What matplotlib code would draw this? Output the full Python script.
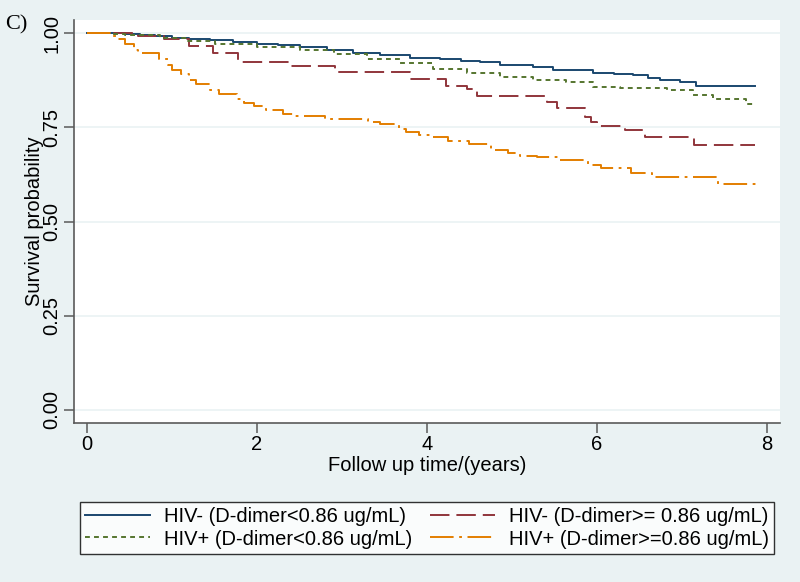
import matplotlib.pyplot as plt

# Kaplan-Meier step values (time in years, survival after the step)
t_neg_low = [0, 0.27, 0.45, 0.62, 0.8, 1.0, 1.2, 1.45, 1.72, 2.0, 2.25, 2.5, 2.82, 3.13, 3.45,
             3.8, 4.15, 4.4, 4.62, 4.86, 5.25, 5.48, 5.95, 6.2, 6.42, 6.6, 6.74, 6.98, 7.17, 7.86]
s_neg_low = [1.0, 0.999, 0.998, 0.996, 0.992, 0.988, 0.985, 0.981, 0.976, 0.971, 0.968, 0.963, 0.954, 0.948, 0.941,
             0.935, 0.930, 0.926, 0.922, 0.916, 0.910, 0.901, 0.895, 0.892, 0.888, 0.882, 0.875, 0.870, 0.860, 0.860]

t_neg_high = [0, 0.6, 0.9, 1.2, 1.48, 1.78, 2.4, 2.92, 3.8, 4.22, 4.47, 4.59, 5.41, 5.53,
              5.86, 5.93, 6.0, 6.33, 6.57, 7.14, 7.86]
s_neg_high = [1.0, 0.992, 0.983, 0.966, 0.948, 0.922, 0.913, 0.897, 0.877, 0.860, 0.851, 0.834, 0.816, 0.800,
              0.778, 0.765, 0.753, 0.743, 0.724, 0.703, 0.703]

t_pos_low = [0, 0.27, 0.45, 0.62, 0.86, 1.18, 1.5, 2.0, 2.5, 2.9, 3.29, 3.68, 4.07, 4.47, 4.86,
             5.25, 5.64, 5.95, 6.27, 6.82, 7.13, 7.37, 7.75, 7.86]
s_pos_low = [1.0, 0.998, 0.996, 0.994, 0.987, 0.979, 0.972, 0.963, 0.954, 0.945, 0.932, 0.921, 0.904, 0.893, 0.884,
             0.875, 0.870, 0.857, 0.853, 0.849, 0.835, 0.825, 0.813, 0.813]

t_pos_high = [0, 0.27, 0.35, 0.45, 0.55, 0.6, 0.85, 0.95, 1.0, 1.1, 1.2, 1.28, 1.45, 1.55, 1.77, 1.85,
              1.97, 2.1, 2.3, 2.45, 2.8, 3.3, 3.45, 3.67, 3.75, 3.9, 4.05, 4.25, 4.5, 4.75, 4.95,
              5.1, 5.3, 5.55, 5.9, 6.05, 6.4, 6.65, 7.42, 7.92]
s_pos_high = [1.0, 0.993, 0.985, 0.970, 0.955, 0.948, 0.930, 0.915, 0.901, 0.890, 0.875, 0.865, 0.849, 0.838, 0.824, 0.815,
              0.807, 0.795, 0.785, 0.781, 0.772, 0.765, 0.759, 0.745, 0.737, 0.730, 0.725, 0.714, 0.705, 0.690, 0.683,
              0.674, 0.670, 0.663, 0.650, 0.641, 0.629, 0.619, 0.600, 0.600]

labels = ["HIV- (D-dimer<0.86 ug/mL)", "HIV- (D-dimer>= 0.86 ug/mL)",
          "HIV+ (D-dimer<0.86 ug/mL)", "HIV+ (D-dimer>=0.86 ug/mL)"]
x_ticks = [0, 2, 4, 6, 8]
y_ticks = [0.00, 0.25, 0.50, 0.75, 1.00]

plt.rcParams['font.family'] = ['Liberation Sans', 'DejaVu Sans']
plt.rcParams['lines.scale_dashes'] = False

bg = '#EAF2F3'
fig = plt.figure(figsize=(8, 5.82), dpi=100, facecolor=bg)
ax = fig.add_axes([0.0925, 0.2732, 0.8825, 0.6924])
ax.set_facecolor('white')

l1, = ax.step(t_neg_low, s_neg_low, where='post', color='#1A476F', lw=1.4)
l2, = ax.step(t_neg_high, s_neg_high, where='post', color='#90353B', lw=1.4, dashes=(14, 5))
l3, = ax.step(t_pos_low, s_pos_low, where='post', color='#55752F', lw=1.4, dashes=(3.5, 3))
l4, = ax.step(t_pos_high, s_pos_high, where='post', color='#E37E00', lw=1.4, dashes=(17, 4, 2, 4))

ax.set_xlim(-0.153, 8.153)
ax.set_ylim(-0.0345, 1.0345)
ax.set_xticks(x_ticks)
ax.set_yticks(y_ticks)
ax.set_yticklabels([f"{v:.2f}" for v in y_ticks], rotation=90, va='center')
ax.grid(axis='y', color=bg, lw=1.2)
ax.set_axisbelow(True)
for side in ['top', 'right']:
    ax.spines[side].set_visible(False)
for side in ['left', 'bottom']:
    ax.spines[side].set_color('#5A5A5A')
    ax.spines[side].set_linewidth(1.2)
ax.tick_params(direction='out', length=7, width=1.1, color='#5A5A5A', labelsize=14.5, pad=2)

ax.set_xlabel('Follow up time/(years)', fontsize=14.5, labelpad=1)
ax.set_ylabel('Survival probability', fontsize=14.5, labelpad=-1)

fig.text(0.006, 0.974, 'C)', family='Liberation Serif', fontsize=16, va='top')

# row-major order like the reference: matplotlib fills legend columns first
leg = fig.legend([l1, l3, l2, l4], [labels[0], labels[2], labels[1], labels[3]], ncol=2, loc='center',
                 bbox_to_anchor=(0.534, 0.0928), fontsize=14.5, frameon=True, fancybox=False,
                 edgecolor='black', handlelength=3.2, columnspacing=0.9, labelspacing=0.15,
                 borderpad=0.25, handletextpad=0.7, borderaxespad=0)
leg.get_frame().set_linewidth(1.0)

fig.savefig('out.png', dpi=100, facecolor=bg)
